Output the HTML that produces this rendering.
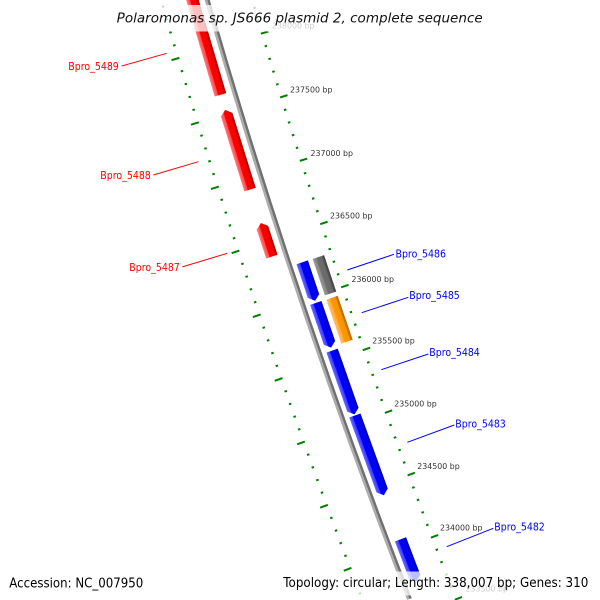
<!DOCTYPE html>
<html><head><meta charset="utf-8"><style>html,body{margin:0;padding:0;background:#fff;width:600px;height:600px;overflow:hidden}#w{width:600px;height:600px;overflow:hidden;position:relative}svg{display:block;overflow:hidden}</style></head><body>
<div id="w">
<svg xmlns="http://www.w3.org/2000/svg" width="600" height="600" viewBox="0 0 600 600" overflow="hidden">
<defs>
<clipPath id="cp"><rect width="600" height="600"/></clipPath>
<linearGradient id="gr" x1="0" y1="0" x2="0" y2="1">
<stop offset="0" stop-color="#ff7a7a"/><stop offset="0.28" stop-color="#ff4a4a"/><stop offset="0.33" stop-color="#ff0000"/><stop offset="0.78" stop-color="#f40000"/><stop offset="0.83" stop-color="#c40000"/><stop offset="1" stop-color="#b00000"/>
</linearGradient>
<linearGradient id="gb" x1="0" y1="0" x2="0" y2="1">
<stop offset="0" stop-color="#6a6aff"/><stop offset="0.28" stop-color="#3c3cff"/><stop offset="0.33" stop-color="#0000ff"/><stop offset="0.78" stop-color="#0000f2"/><stop offset="0.83" stop-color="#0000c4"/><stop offset="1" stop-color="#0000b0"/>
</linearGradient>
<linearGradient id="gg" x1="0" y1="0" x2="0" y2="1">
<stop offset="0" stop-color="#9a9a9a"/><stop offset="0.28" stop-color="#858585"/><stop offset="0.33" stop-color="#6e6e6e"/><stop offset="0.78" stop-color="#686868"/><stop offset="0.83" stop-color="#4e4e4e"/><stop offset="1" stop-color="#444"/>
</linearGradient>
<linearGradient id="go" x1="0" y1="0" x2="0" y2="1">
<stop offset="0" stop-color="#ffbe6a"/><stop offset="0.28" stop-color="#ffab40"/><stop offset="0.33" stop-color="#ff9900"/><stop offset="0.78" stop-color="#f79300"/><stop offset="0.83" stop-color="#c87800"/><stop offset="1" stop-color="#b86c00"/>
</linearGradient>
</defs>
<rect width="600" height="600" fill="#fff"/>
<g clip-path="url(#cp)">
<g transform="translate(7120.7,-2000.1)">
<path d="M -6915.94,1996.16 A 7198.25 7198.25 0 0 0 -6712.47,2599.54" fill="none" stroke="#acacac" stroke-width="2.5"/>
<path d="M -6913.54,1995.47 A 7195.75 7195.75 0 0 0 -6710.13,2598.64" fill="none" stroke="#707070" stroke-width="2.5"/>
<polygon fill="url(#gr)" transform="rotate(253.556)" points="-55.88,-7217 50.88,-7217 55.88,-7211 50.88,-7205 -55.88,-7205"/>
<polygon fill="url(#gr)" transform="rotate(252.6545)" points="-41.72,-7217 36.72,-7217 41.72,-7211 36.72,-7205 -41.72,-7205"/>
<polygon fill="url(#gr)" transform="rotate(251.9035)" points="-17.68,-7217 12.68,-7217 17.68,-7211 12.68,-7205 -17.68,-7205"/>
<polygon fill="url(#gb)" transform="rotate(251.48225)" points="-20.28,-7184 -15.28,-7190 20.28,-7190 20.28,-7178 -15.28,-7178"/>
<polygon fill="url(#gb)" transform="rotate(251.114)" points="-23.57,-7184 -18.57,-7190 23.57,-7190 23.57,-7178 -18.57,-7178"/>
<polygon fill="url(#gb)" transform="rotate(250.63075)" points="-33.82,-7184 -28.82,-7190 33.82,-7190 33.82,-7178 -28.82,-7178"/>
<polygon fill="url(#gb)" transform="rotate(250.01375)" points="-42.41,-7184 -37.41,-7190 42.41,-7190 42.41,-7178 -37.41,-7178"/>
<polygon fill="url(#gb)" transform="rotate(249.1195)" points="-22.51,-7184 -17.51,-7190 22.51,-7190 22.51,-7178 -17.51,-7178"/>
<polygon fill="url(#gg)" transform="rotate(251.4895)" points="-19.2,-7173 19.2,-7173 19.2,-7161 -19.2,-7161"/>
<polygon fill="url(#go)" transform="rotate(251.1145)" points="-23.2,-7173 23.2,-7173 23.2,-7161 -23.2,-7161"/>
<g stroke="#008000" stroke-width="2">
<line y1="-7240" y2="-7242.5" transform="rotate(249.0126)"/>
<line y1="-7240" y2="-7242.5" transform="rotate(249.1191)"/>
<line y1="-7240" y2="-7248.2" transform="rotate(249.2256)"/>
<line y1="-7240" y2="-7242.5" transform="rotate(249.3321)"/>
<line y1="-7240" y2="-7242.5" transform="rotate(249.4386)"/>
<line y1="-7240" y2="-7242.5" transform="rotate(249.5451)"/>
<line y1="-7240" y2="-7242.5" transform="rotate(249.6516)"/>
<line y1="-7240" y2="-7248.2" transform="rotate(249.7581)"/>
<line y1="-7240" y2="-7242.5" transform="rotate(249.8646)"/>
<line y1="-7240" y2="-7242.5" transform="rotate(249.9712)"/>
<line y1="-7240" y2="-7242.5" transform="rotate(250.0777)"/>
<line y1="-7240" y2="-7242.5" transform="rotate(250.1842)"/>
<line y1="-7240" y2="-7248.2" transform="rotate(250.2907)"/>
<line y1="-7240" y2="-7242.5" transform="rotate(250.3972)"/>
<line y1="-7240" y2="-7242.5" transform="rotate(250.5037)"/>
<line y1="-7240" y2="-7242.5" transform="rotate(250.6102)"/>
<line y1="-7240" y2="-7242.5" transform="rotate(250.7167)"/>
<line y1="-7240" y2="-7248.2" transform="rotate(250.8232)"/>
<line y1="-7240" y2="-7242.5" transform="rotate(250.9297)"/>
<line y1="-7240" y2="-7242.5" transform="rotate(251.0362)"/>
<line y1="-7240" y2="-7242.5" transform="rotate(251.1427)"/>
<line y1="-7240" y2="-7242.5" transform="rotate(251.2492)"/>
<line y1="-7240" y2="-7248.2" transform="rotate(251.3557)"/>
<line y1="-7240" y2="-7242.5" transform="rotate(251.4622)"/>
<line y1="-7240" y2="-7242.5" transform="rotate(251.5688)"/>
<line y1="-7240" y2="-7242.5" transform="rotate(251.6753)"/>
<line y1="-7240" y2="-7242.5" transform="rotate(251.7818)"/>
<line y1="-7240" y2="-7248.2" transform="rotate(251.8883)"/>
<line y1="-7240" y2="-7242.5" transform="rotate(251.9948)"/>
<line y1="-7240" y2="-7242.5" transform="rotate(252.1013)"/>
<line y1="-7240" y2="-7242.5" transform="rotate(252.2078)"/>
<line y1="-7240" y2="-7242.5" transform="rotate(252.3143)"/>
<line y1="-7240" y2="-7248.2" transform="rotate(252.4208)"/>
<line y1="-7240" y2="-7242.5" transform="rotate(252.5273)"/>
<line y1="-7240" y2="-7242.5" transform="rotate(252.6338)"/>
<line y1="-7240" y2="-7242.5" transform="rotate(252.7403)"/>
<line y1="-7240" y2="-7242.5" transform="rotate(252.8468)"/>
<line y1="-7240" y2="-7248.2" transform="rotate(252.9533)"/>
<line y1="-7240" y2="-7242.5" transform="rotate(253.0598)"/>
<line y1="-7240" y2="-7242.5" transform="rotate(253.1664)"/>
<line y1="-7240" y2="-7242.5" transform="rotate(253.2729)"/>
<line y1="-7240" y2="-7242.5" transform="rotate(253.3794)"/>
<line y1="-7240" y2="-7248.2" transform="rotate(253.4859)"/>
<line y1="-7240" y2="-7242.5" transform="rotate(253.5924)"/>
<line y1="-7240" y2="-7242.5" transform="rotate(253.6989)"/>
<line y1="-7240" y2="-7242.5" transform="rotate(253.8054)"/>
<line y1="-7240" y2="-7242.5" transform="rotate(253.9119)"/>
</g>
<g stroke="#008000" stroke-width="2">
<line y1="-7155" y2="-7147.2" transform="rotate(248.6931)"/>
<line y1="-7155" y2="-7152.5" transform="rotate(248.7996)"/>
<line y1="-7155" y2="-7152.5" transform="rotate(248.9061)"/>
<line y1="-7155" y2="-7152.5" transform="rotate(249.0126)"/>
<line y1="-7155" y2="-7152.5" transform="rotate(249.1191)"/>
<line y1="-7155" y2="-7147.2" transform="rotate(249.2256)"/>
<line y1="-7155" y2="-7152.5" transform="rotate(249.3321)"/>
<line y1="-7155" y2="-7152.5" transform="rotate(249.4386)"/>
<line y1="-7155" y2="-7152.5" transform="rotate(249.5451)"/>
<line y1="-7155" y2="-7152.5" transform="rotate(249.6516)"/>
<line y1="-7155" y2="-7147.2" transform="rotate(249.7581)"/>
<line y1="-7155" y2="-7152.5" transform="rotate(249.8646)"/>
<line y1="-7155" y2="-7152.5" transform="rotate(249.9712)"/>
<line y1="-7155" y2="-7152.5" transform="rotate(250.0777)"/>
<line y1="-7155" y2="-7152.5" transform="rotate(250.1842)"/>
<line y1="-7155" y2="-7147.2" transform="rotate(250.2907)"/>
<line y1="-7155" y2="-7152.5" transform="rotate(250.3972)"/>
<line y1="-7155" y2="-7152.5" transform="rotate(250.5037)"/>
<line y1="-7155" y2="-7152.5" transform="rotate(250.6102)"/>
<line y1="-7155" y2="-7152.5" transform="rotate(250.7167)"/>
<line y1="-7155" y2="-7147.2" transform="rotate(250.8232)"/>
<line y1="-7155" y2="-7152.5" transform="rotate(250.9297)"/>
<line y1="-7155" y2="-7152.5" transform="rotate(251.0362)"/>
<line y1="-7155" y2="-7152.5" transform="rotate(251.1427)"/>
<line y1="-7155" y2="-7152.5" transform="rotate(251.2492)"/>
<line y1="-7155" y2="-7147.2" transform="rotate(251.3557)"/>
<line y1="-7155" y2="-7152.5" transform="rotate(251.4622)"/>
<line y1="-7155" y2="-7152.5" transform="rotate(251.5688)"/>
<line y1="-7155" y2="-7152.5" transform="rotate(251.6753)"/>
<line y1="-7155" y2="-7152.5" transform="rotate(251.7818)"/>
<line y1="-7155" y2="-7147.2" transform="rotate(251.8883)"/>
<line y1="-7155" y2="-7152.5" transform="rotate(251.9948)"/>
<line y1="-7155" y2="-7152.5" transform="rotate(252.1013)"/>
<line y1="-7155" y2="-7152.5" transform="rotate(252.2078)"/>
<line y1="-7155" y2="-7152.5" transform="rotate(252.3143)"/>
<line y1="-7155" y2="-7147.2" transform="rotate(252.4208)"/>
<line y1="-7155" y2="-7152.5" transform="rotate(252.5273)"/>
<line y1="-7155" y2="-7152.5" transform="rotate(252.6338)"/>
<line y1="-7155" y2="-7152.5" transform="rotate(252.7403)"/>
<line y1="-7155" y2="-7152.5" transform="rotate(252.8468)"/>
<line y1="-7155" y2="-7147.2" transform="rotate(252.9533)"/>
<line y1="-7155" y2="-7152.5" transform="rotate(253.0598)"/>
<line y1="-7155" y2="-7152.5" transform="rotate(253.1664)"/>
<line y1="-7155" y2="-7152.5" transform="rotate(253.2729)"/>
<line y1="-7155" y2="-7152.5" transform="rotate(253.3794)"/>
<line y1="-7155" y2="-7147.2" transform="rotate(253.4859)"/>
<line y1="-7155" y2="-7152.5" transform="rotate(253.5924)"/>
<line y1="-7155" y2="-7152.5" transform="rotate(253.6989)"/>
</g>
</g>
</g>
<g font-family="'DejaVu Sans','Liberation Sans',sans-serif" font-size="8" fill="#333">
<text x="272" y="28.5" textLength="42.5" lengthAdjust="spacingAndGlyphs">238000 bp</text>
<text x="290" y="92.6" textLength="42.5" lengthAdjust="spacingAndGlyphs">237500 bp</text>
<text x="310.5" y="156" textLength="42.5" lengthAdjust="spacingAndGlyphs">237000 bp</text>
<text x="330" y="218.3" textLength="42.5" lengthAdjust="spacingAndGlyphs">236500 bp</text>
<text x="351.5" y="282" textLength="42.5" lengthAdjust="spacingAndGlyphs">236000 bp</text>
<text x="372.3" y="343.7" textLength="42.5" lengthAdjust="spacingAndGlyphs">235500 bp</text>
<text x="394.3" y="406.7" textLength="42.5" lengthAdjust="spacingAndGlyphs">235000 bp</text>
<text x="417.3" y="469" textLength="42.5" lengthAdjust="spacingAndGlyphs">234500 bp</text>
<text x="440" y="530.7" textLength="42.5" lengthAdjust="spacingAndGlyphs">234000 bp</text>
<text x="465.5" y="591.7" textLength="42.5" lengthAdjust="spacingAndGlyphs">233500 bp</text>
</g>
<g stroke="#ff0000" stroke-width="1">
<line x1="121.7" y1="66" x2="166.7" y2="53.3"/>
<line x1="153.3" y1="175" x2="198.3" y2="161.7"/>
<line x1="182.3" y1="266.9" x2="227.3" y2="253.3"/>
</g>
<g stroke="#0000ff" stroke-width="1">
<line x1="347.3" y1="270" x2="394" y2="254.3"/>
<line x1="361.7" y1="312.7" x2="408.3" y2="297.3"/>
<line x1="381.3" y1="369.7" x2="428.3" y2="354"/>
<line x1="407.3" y1="442.3" x2="454.3" y2="425"/>
<line x1="446.7" y1="546.7" x2="493.3" y2="528.3"/>
</g>
<g font-family="'DejaVu Sans','Liberation Sans',sans-serif" font-size="11">
<text x="68.3" y="70" fill="#ff0000" textLength="50.5" lengthAdjust="spacingAndGlyphs">Bpro_5489</text>
<text x="100.3" y="179" fill="#ff0000" textLength="50.5" lengthAdjust="spacingAndGlyphs">Bpro_5488</text>
<text x="129.3" y="271" fill="#ff0000" textLength="50.5" lengthAdjust="spacingAndGlyphs">Bpro_5487</text>
<text x="395.5" y="257.3" fill="#0000ff" textLength="50.5" lengthAdjust="spacingAndGlyphs">Bpro_5486</text>
<text x="409.3" y="299" fill="#0000ff" textLength="50.5" lengthAdjust="spacingAndGlyphs">Bpro_5485</text>
<text x="429.3" y="356" fill="#0000ff" textLength="50.5" lengthAdjust="spacingAndGlyphs">Bpro_5484</text>
<text x="455.3" y="427.3" fill="#0000ff" textLength="50.5" lengthAdjust="spacingAndGlyphs">Bpro_5483</text>
<text x="494.3" y="530.7" fill="#0000ff" textLength="50.5" lengthAdjust="spacingAndGlyphs">Bpro_5482</text>
</g>
<rect x="112" y="5" width="376" height="26.5" fill="#fff" fill-opacity="0.75"/>
<rect x="6" y="571.5" width="142" height="24" fill="#fff" fill-opacity="0.75"/>
<rect x="280" y="571.5" width="313" height="24" fill="#fff" fill-opacity="0.75"/>
<text x="116.7" y="22.7" font-family="'DejaVu Sans','Liberation Sans',sans-serif" font-style="italic" font-size="13" fill="#111" textLength="366" lengthAdjust="spacingAndGlyphs">Polaromonas sp. JS666 plasmid 2, complete sequence</text>
<text x="9.3" y="587.3" font-family="'DejaVu Sans','Liberation Sans',sans-serif" font-size="13" fill="#000" textLength="134" lengthAdjust="spacingAndGlyphs">Accession: NC_007950</text>
<text x="283.3" y="587" font-family="'DejaVu Sans','Liberation Sans',sans-serif" font-size="13" fill="#000" textLength="305" lengthAdjust="spacingAndGlyphs">Topology: circular; Length: 338,007 bp; Genes: 310</text>
</svg>
</div>
</body></html>
